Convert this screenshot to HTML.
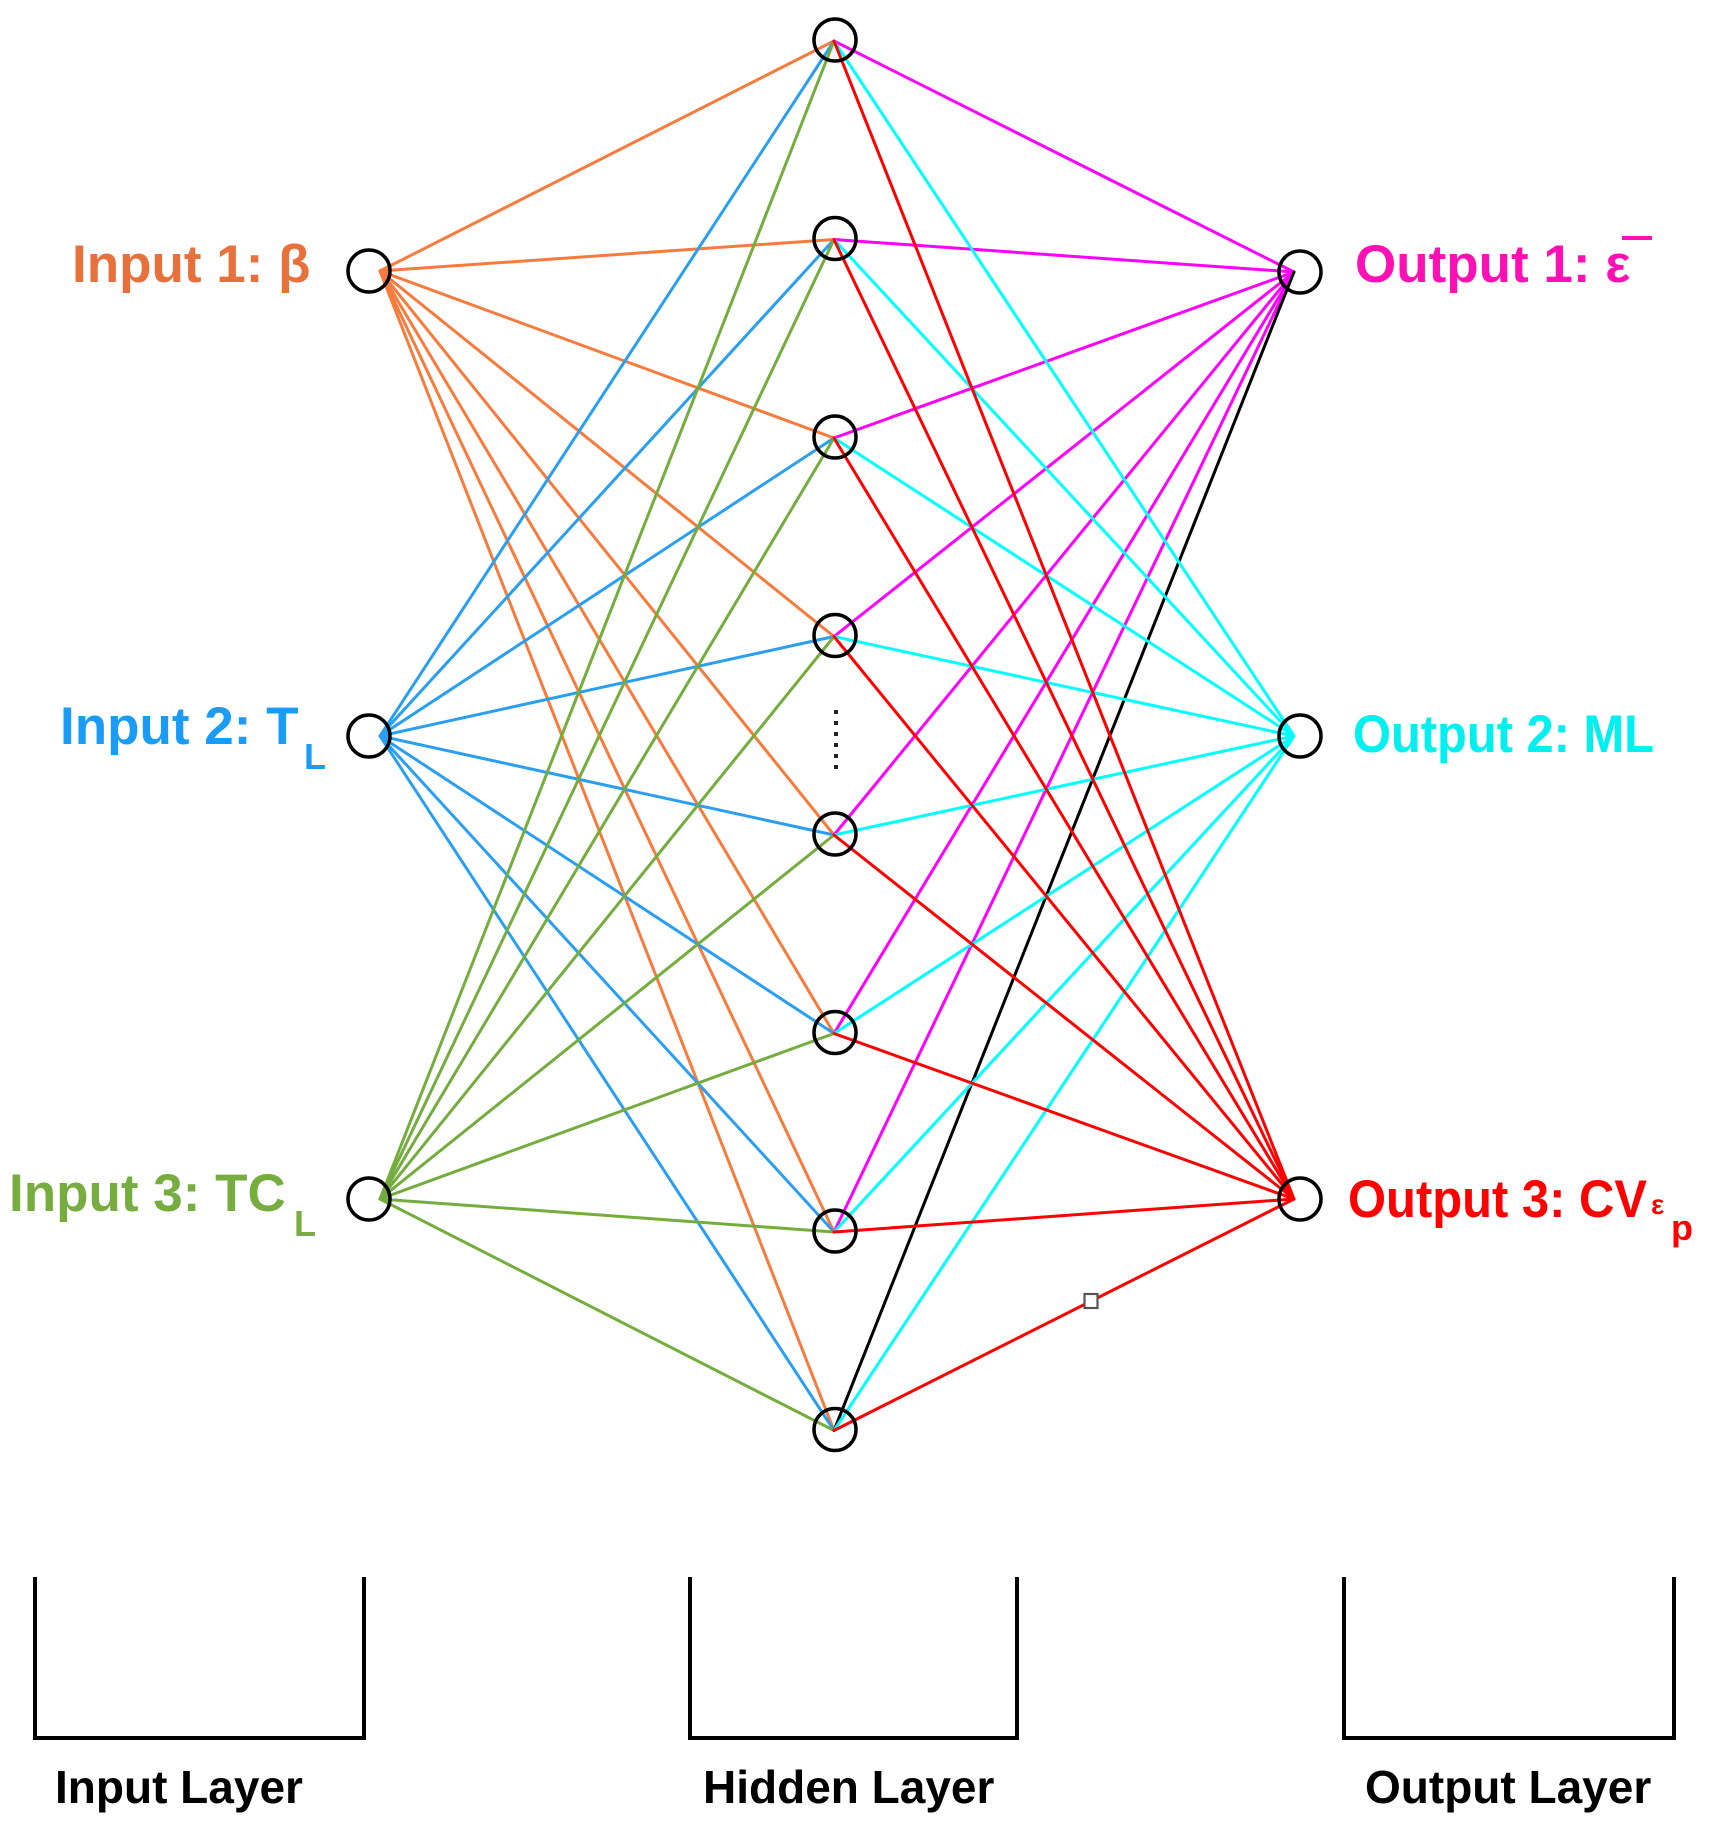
<!DOCTYPE html>
<html><head><meta charset="utf-8"><style>
html,body{margin:0;padding:0;background:#fff;}
svg{display:block;}
text{font-family:"Liberation Sans",Arial,sans-serif;font-weight:bold;}
</style></head><body>
<svg width="1710" height="1830" viewBox="0 0 1710 1830" xmlns="http://www.w3.org/2000/svg">
<g stroke-width="3" fill="none" stroke-linecap="round">
<g stroke="#f67b3c">
<line x1="380" y1="271" x2="834" y2="41"/><line x1="380" y1="271" x2="834" y2="239.5"/><line x1="380" y1="271" x2="834" y2="438"/><line x1="380" y1="271" x2="834" y2="636.5"/><line x1="380" y1="271" x2="834" y2="835"/><line x1="380" y1="271" x2="834" y2="1033.5"/><line x1="380" y1="271" x2="834" y2="1232"/><line x1="380" y1="271" x2="834" y2="1430.5"/>
</g>
<g stroke="#2a9ff2">
<line x1="380" y1="736" x2="834" y2="41"/><line x1="380" y1="736" x2="834" y2="239.5"/><line x1="380" y1="736" x2="834" y2="438"/><line x1="380" y1="736" x2="834" y2="636.5"/><line x1="380" y1="736" x2="834" y2="835"/><line x1="380" y1="736" x2="834" y2="1033.5"/><line x1="380" y1="736" x2="834" y2="1232"/><line x1="380" y1="736" x2="834" y2="1430.5"/>
</g>
<g stroke="#74ad3e">
<line x1="380" y1="1199" x2="834" y2="41"/><line x1="380" y1="1199" x2="834" y2="239.5"/><line x1="380" y1="1199" x2="834" y2="438"/><line x1="380" y1="1199" x2="834" y2="636.5"/><line x1="380" y1="1199" x2="834" y2="835"/><line x1="380" y1="1199" x2="834" y2="1033.5"/><line x1="380" y1="1199" x2="834" y2="1232"/><line x1="380" y1="1199" x2="834" y2="1430.5"/>
</g>
<g stroke="#ff00ff">
<line x2="1294" y2="272" x1="834" y1="41"/><line x2="1294" y2="272" x1="834" y1="239.5"/><line x2="1294" y2="272" x1="834" y1="438"/><line x2="1294" y2="272" x1="834" y1="636.5"/><line x2="1294" y2="272" x1="834" y1="835"/><line x2="1294" y2="272" x1="834" y1="1033.5"/><line x2="1294" y2="272" x1="834" y1="1232"/>
</g>
<line x2="1294" y2="272" x1="834" y1="1430.5" stroke="#000"/>
<g stroke="#00ffff">
<line x2="1294" y2="736" x1="834" y1="41"/><line x2="1294" y2="736" x1="834" y1="239.5"/><line x2="1294" y2="736" x1="834" y1="438"/><line x2="1294" y2="736" x1="834" y1="636.5"/><line x2="1294" y2="736" x1="834" y1="835"/><line x2="1294" y2="736" x1="834" y1="1033.5"/><line x2="1294" y2="736" x1="834" y1="1232"/><line x2="1294" y2="736" x1="834" y1="1430.5"/>
</g>
<g stroke="#ff0000">
<line x2="1294" y2="1199" x1="834" y1="41"/><line x2="1294" y2="1199" x1="834" y1="239.5"/><line x2="1294" y2="1199" x1="834" y1="438"/><line x2="1294" y2="1199" x1="834" y1="636.5"/><line x2="1294" y2="1199" x1="834" y1="835"/><line x2="1294" y2="1199" x1="834" y1="1033.5"/><line x2="1294" y2="1199" x1="834" y1="1232"/><line x2="1294" y2="1199" x1="834" y1="1430.5"/>
</g>
</g>
<rect x="1084.5" y="1294" width="13" height="14" fill="#fff" stroke="#555" stroke-width="2.2"/>
<g fill="none" stroke="#000" stroke-width="3.5">
<circle cx="369" cy="271" r="21"/><circle cx="369" cy="736" r="21"/><circle cx="369" cy="1199" r="21"/>
<circle cx="835" cy="40" r="21"/><circle cx="835" cy="238.5" r="21"/><circle cx="835" cy="437" r="21"/><circle cx="835" cy="635.5" r="21"/><circle cx="835" cy="834" r="21"/><circle cx="835" cy="1032.5" r="21"/><circle cx="835" cy="1231" r="21"/><circle cx="835" cy="1429.5" r="21"/>
<circle cx="1300" cy="272" r="21"/><circle cx="1300" cy="736" r="21"/><circle cx="1300" cy="1199" r="21"/>
</g>
<g fill="#222">
<rect x="834" y="710" width="4" height="4"/><rect x="834" y="721" width="4" height="4"/><rect x="834" y="732" width="4" height="4"/><rect x="834" y="743" width="4" height="4"/><rect x="834" y="754" width="4" height="4"/><rect x="834" y="765" width="4" height="4"/>
</g>
<text x="72" y="282" font-size="53" fill="#e8703a">Input 1: β</text>
<text x="60" y="744" font-size="53" fill="#1a9bf5">Input 2: T</text>
<text x="304" y="769" font-size="36" fill="#1a9bf5">L</text>
<text x="9" y="1211" font-size="53" fill="#76ad3e">Input 3: TC</text>
<text x="294" y="1236" font-size="36" fill="#76ad3e">L</text>
<text x="1355" y="282" font-size="53" fill="#ff10b4">Output 1: ε</text>
<rect x="1622" y="236" width="30" height="4" fill="#ff10b4"/>
<text x="1353" y="752" font-size="53" fill="#00f0f0" textLength="301" lengthAdjust="spacingAndGlyphs">Output 2: ML</text>
<text x="1348" y="1217" font-size="53" fill="#ff0000" textLength="299" lengthAdjust="spacingAndGlyphs">Output 3: CV</text>
<text x="1651" y="1214" font-size="28" fill="#ff0000" font-weight="normal">ε</text>
<text x="1671" y="1240" font-size="36" fill="#ff0000">p</text>
<g fill="none" stroke="#000" stroke-width="4">
<polyline points="35,1577 35,1738 364,1738 364,1577"/>
<polyline points="690,1577 690,1738 1017,1738 1017,1577"/>
<polyline points="1344,1577 1344,1738 1674,1738 1674,1577"/>
</g>
<text x="55" y="1803" font-size="46" fill="#000">Input Layer</text>
<text x="703" y="1803" font-size="46" fill="#000">Hidden Layer</text>
<text x="1365" y="1803" font-size="46" fill="#000">Output Layer</text>
</svg>
</body></html>
